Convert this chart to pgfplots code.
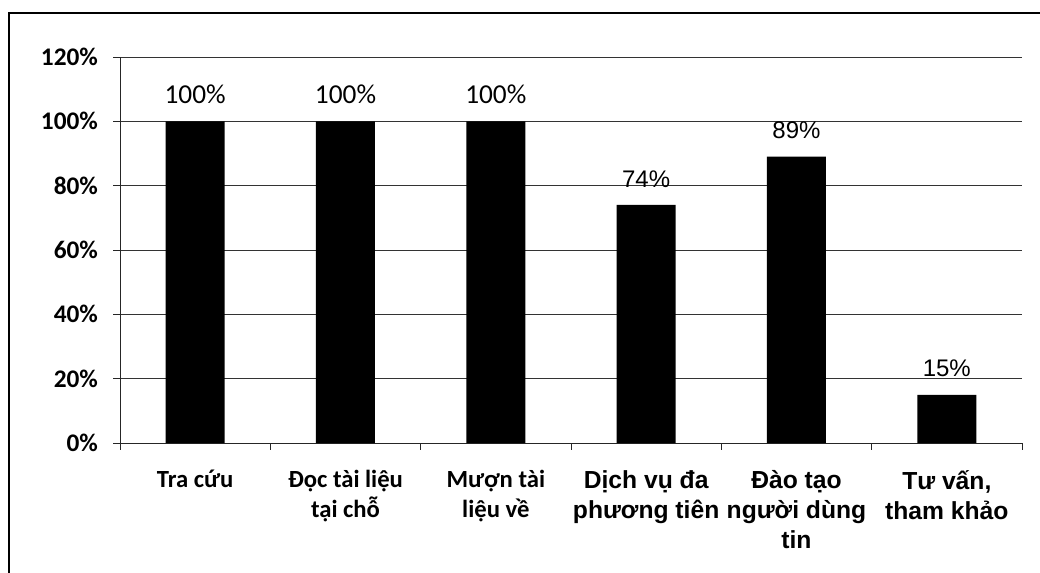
\documentclass[border=0pt]{standalone}
\usepackage{fontspec}
\setmainfont{Carlito}
\newfontfamily\arial{Liberation Sans}
\usepackage{pgfplots}
\pgfplotsset{compat=1.18}
\begin{document}
\begin{tikzpicture}
\begin{axis}[
  at={(0,0)}, anchor=south west,
  scale only axis, width=676.5pt, height=289.5pt,
  xmin=0.5, xmax=6.5, ymin=0, ymax=120,
  axis x line=bottom, axis y line=left,
  axis line style={-, black!85, line width=0.7pt},
  ytick={0,20,...,120},
  yticklabels={0\%,20\%,40\%,60\%,80\%,100\%,120\%},
  ymajorgrids, grid style={black!80, line width=0.6pt},
  xtick={0.5,1.5,...,6.5}, xticklabels={,,,,,,},
  tick align=outside, major tick length=5pt,
  tick style={black!85, line width=0.6pt},
  yticklabel style={font=\bfseries\fontsize{19}{22}\selectfont, xshift=-8pt},
  extra x ticks={1,2,3,4,5,6},
  extra x tick labels={Tra cứu, {Đọc tài liệu\\tại chỗ}, {Mượn tài\\liệu về}, {\arial Dịch vụ đa\\\arial phương tiên}, {\arial Đào tạo\\\arial người dùng\\\arial tin}, {\arial Tư vấn,\\\arial tham khảo}},
  extra x tick style={major tick length=0pt, xticklabel style={font=\bfseries\fontsize{18.5}{22.5}\selectfont, align=center, anchor=north, yshift=-17pt}},
  clip=false,
]
\addplot[ybar, bar shift=0pt, bar width=44.25pt, fill=black, draw=none,
  nodes near coords={\pgfmathprintnumber[assume math mode=true]{\pgfplotspointmeta}\%},
  nodes near coords style={font=\fontsize{20.5}{24}\selectfont, anchor=south, inner sep=0pt, yshift=13pt}]
  coordinates {(1,100) (2,100) (3,100)};
\addplot[ybar, bar shift=0pt, bar width=44.25pt, fill=black, draw=none,
  nodes near coords={\pgfmathprintnumber[assume math mode=true]{\pgfplotspointmeta}\%},
  nodes near coords style={font=\arial\fontsize{18}{21}\selectfont, anchor=south, inner sep=0pt, yshift=13pt}]
  coordinates {(4,74) (5,89) (6,15)};
\end{axis}
\draw[line width=2pt, black] (-83.25pt,-120pt) -- (-83.25pt,322.5pt) -- (720pt,322.5pt);
\pgfresetboundingbox
\useasboundingbox (-90pt,-96.75pt) rectangle (690pt,332.25pt);
\end{tikzpicture}
\end{document}
